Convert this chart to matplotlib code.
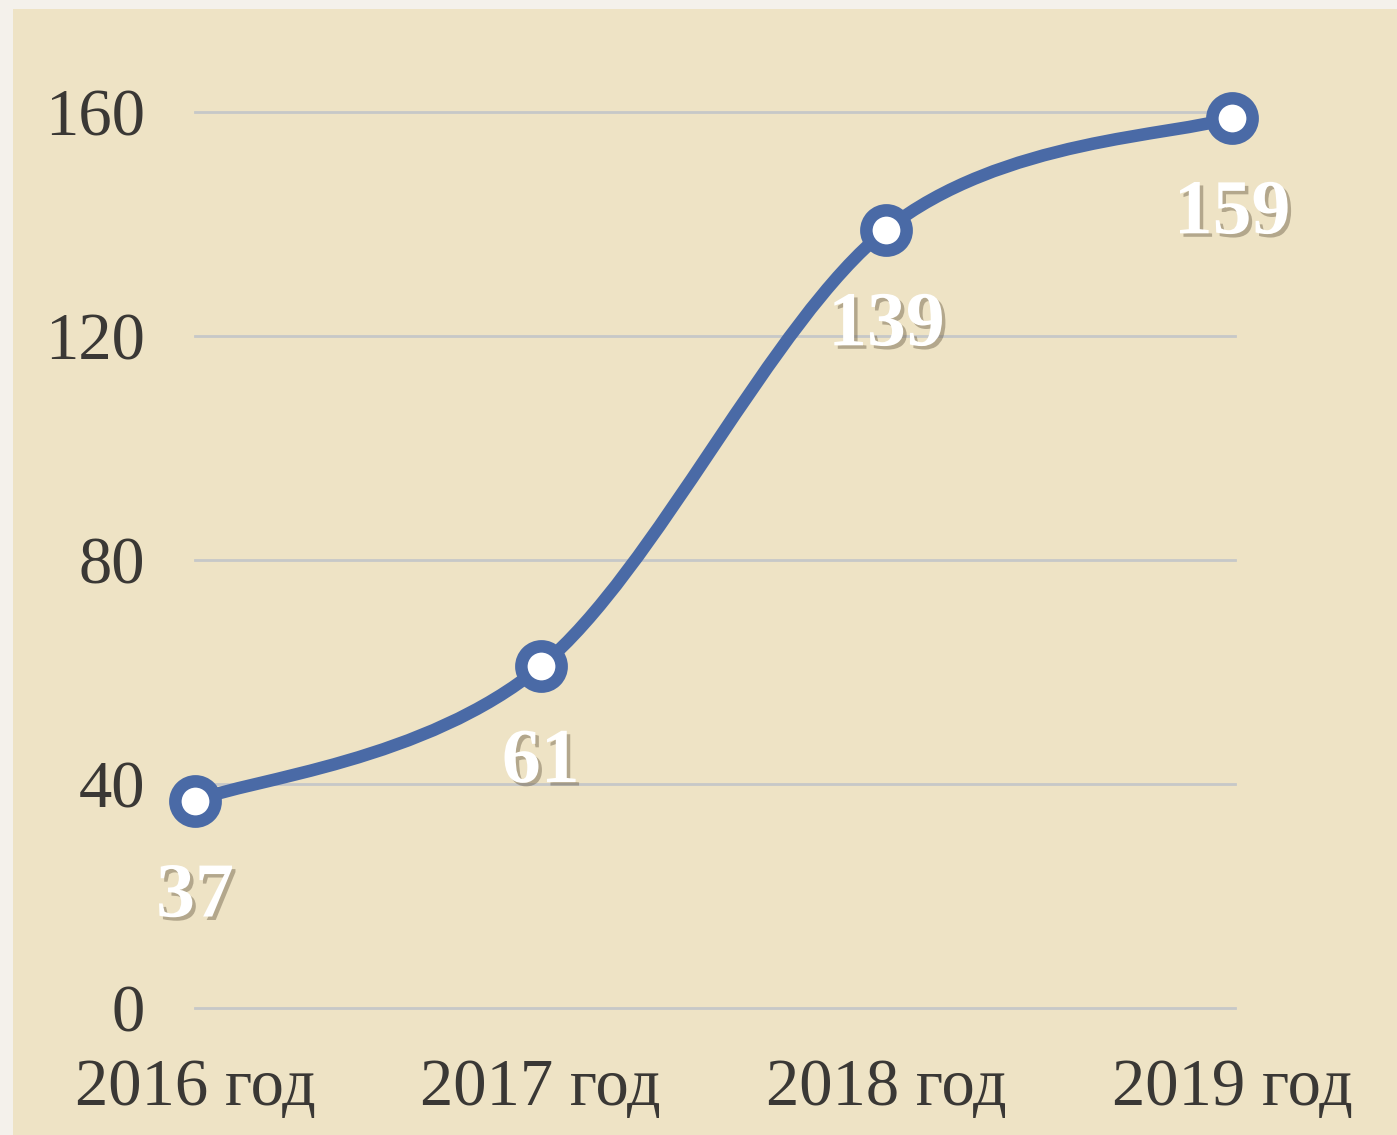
import matplotlib
matplotlib.use('Agg')
import matplotlib.pyplot as plt
import matplotlib.patheffects as pe
from matplotlib.path import Path
from matplotlib.patches import PathPatch, Rectangle
import numpy as np

# chart data
years = ['2016 год', '2017 год', '2018 год', '2019 год']
counts = [37, 61, 139, 159]
y_ticks = [0, 40, 80, 120, 160]

line_blue = '#4A6AA6'
text_dark = '#3A3835'
serif = ['Liberation Serif', 'DejaVu Serif']

fig = plt.figure(figsize=(13.97, 11.35), dpi=100)
fig.patch.set_facecolor('#F4F1EB')
# beige panel behind the chart
fig.patches.append(Rectangle((13 / 1397, 0), 1, 1 - 9 / 1135,
                             transform=fig.transFigure, facecolor='#EEE3C5',
                             edgecolor='none', zorder=-5))

ax = fig.add_axes([195 / 1397, 127 / 1135, 1037 / 1397, 896 / 1135])
ax.set_facecolor('none')
x = np.arange(len(years))
ax.set_xlim(0, len(years) - 1)
ax.set_ylim(0, 160)

# horizontal gridlines, slightly past the last category
for t in y_ticks:
    ax.plot([0, len(years) - 1 + 0.01], [t, t], color='#C6C8C8', lw=2,
            zorder=1, clip_on=False)

# smoothed line (Excel-style bezier through the points)
pts = np.column_stack([x, counts]).astype(float)
ext = np.vstack([pts[0], pts, pts[-1]])
verts = [tuple(pts[0])]
codes = [Path.MOVETO]
for i in range(len(pts) - 1):
    p0, p1, p2, p3 = ext[i], ext[i + 1], ext[i + 2], ext[i + 3]
    c1 = p1 + (p2 - p0) / 6
    c2 = p2 - (p3 - p1) / 6
    verts += [tuple(c1), tuple(c2), tuple(p2)]
    codes += [Path.CURVE4] * 3
ax.add_patch(PathPatch(Path(verts, codes), facecolor='none', edgecolor=line_blue,
                       lw=9, capstyle='round', zorder=3, clip_on=False))

ax.plot(x, counts, linestyle='none', marker='o', markersize=29,
        markerfacecolor='white', markeredgecolor=line_blue,
        markeredgewidth=9, zorder=4, clip_on=False)

shadow = [pe.SimplePatchShadow(offset=(2.5, -2.5), shadow_rgbFace='#6b5f48', alpha=0.45),
          pe.Normal()]
for xi, v in zip(x, counts):
    ax.annotate(str(v), (xi, v), xytext=(0, -70), textcoords='offset points',
                ha='center', va='center', fontsize=56, fontweight='bold',
                family=serif, color='white', path_effects=shadow, zorder=5,
                annotation_clip=False)

ax.set_yticks(y_ticks)
ax.set_xticks(x)
ax.set_xticklabels(years)
ax.tick_params(axis='both', length=0, labelsize=48, labelcolor=text_dark)
ax.tick_params(axis='y', pad=36)
ax.tick_params(axis='x', pad=36)
for lab in ax.get_xticklabels() + ax.get_yticklabels():
    lab.set_family(serif)
for s in ax.spines.values():
    s.set_visible(False)

fig.savefig('out.png', dpi=100, facecolor=fig.get_facecolor())
